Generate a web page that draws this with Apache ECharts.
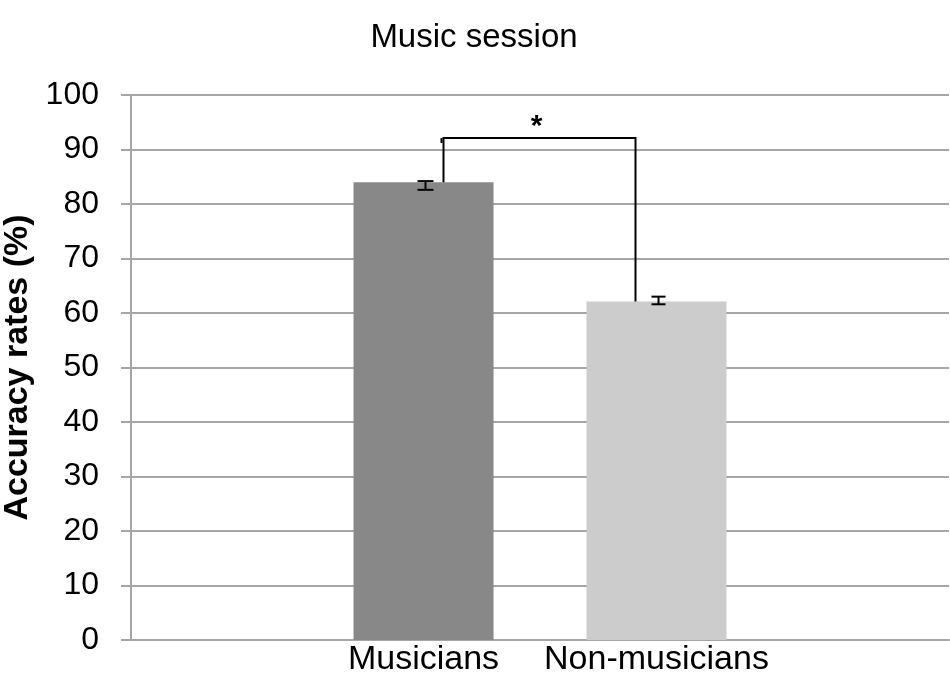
<!DOCTYPE html>
<html>
<head>
<meta charset="utf-8">
<script src="https://cdn.jsdelivr.net/npm/echarts@6/dist/echarts.min.js"></script>
<style>
html,body{margin:0;padding:0;background:#fff;}
#chart{width:950px;height:674px;}
</style>
</head>
<body>
<div id="chart"></div>
<script>
// ---- data ----
var groups = ['Musicians', 'Non-musicians'];
var accuracy = [84.0, 62.1];
var errLow = [82.6, 61.6];
var errHigh = [84.2, 63.0];
var bracketTop = 92.1;
var yTicks = [0, 10, 20, 30, 40, 50, 60, 70, 80, 90, 100];

// ---- layout constants ----
var BAR_W = 140;
var GAP_PX = 93;
var colors = ['#888888', '#cccccc'];
var FONT = '"Liberation Sans", Arial, sans-serif';

function barCenterX(api, i) {
  var c = api.coord([0, 0])[0];
  return c + (i - (groups.length - 1) / 2) * (BAR_W + GAP_PX);
}

var chart = echarts.init(document.getElementById('chart'), null, {renderer: 'canvas'});

var series = groups.map(function (g, i) {
  return {
    name: g,
    type: 'bar',
    data: [accuracy[i]],
    barWidth: BAR_W,
    barGap: (GAP_PX / BAR_W * 100).toFixed(1) + '%',
    itemStyle: {color: colors[i]},
    label: {
      show: true,
      position: 'bottom',
      distance: 3,
      formatter: '{a}',
      color: '#000',
      fontSize: 34,
      fontFamily: FONT
    },
    silent: true,
    z: 2
  };
});

series.push({
  type: 'custom',
  name: 'err',
  data: groups.map(function (g, i) { return [0, errLow[i], errHigh[i], i]; }),
  renderItem: function (params, api) {
    var i = api.value(3);
    var x = barCenterX(api, i) + 2;
    var yl = api.coord([0, api.value(1)])[1];
    var yh = api.coord([0, api.value(2)])[1];
    var hw = i === 0 ? 8 : 7;
    var st = {stroke: '#000', lineWidth: 2};
    return {
      type: 'group',
      children: [
        {type: 'line', shape: {x1: x, y1: yl, x2: x, y2: yh}, style: st},
        {type: 'line', shape: {x1: x - hw, y1: yl, x2: x + hw, y2: yl}, style: st},
        {type: 'line', shape: {x1: x - hw, y1: yh, x2: x + hw, y2: yh}, style: st}
      ]
    };
  },
  z: 5,
  silent: true
});

series.push({
  type: 'custom',
  name: 'bracket',
  data: [[0, accuracy[0], accuracy[1], bracketTop]],
  renderItem: function (params, api) {
    var xl = barCenterX(api, 0) + 20;
    var xr = barCenterX(api, 1) - 21;
    var yl = api.coord([0, api.value(1)])[1];
    var yr = api.coord([0, api.value(2)])[1];
    var yt = api.coord([0, api.value(3)])[1];
    var st = {stroke: '#000', lineWidth: 2, fill: null};
    return {
      type: 'group',
      children: [
        {type: 'polyline', shape: {points: [[xl, yl], [xl, yt], [xr, yt], [xr, yr]]}, style: st},
        {type: 'line', shape: {x1: xl - 2, y1: yt, x2: xl - 2, y2: yt + 5}, style: st},
        {type: 'text', style: {text: '*', x: (xl + xr) / 2 - 3, y: yt + 4, fill: '#000',
          font: 'bold 30px ' + FONT, textAlign: 'center', textVerticalAlign: 'bottom'}}
      ]
    };
  },
  z: 6,
  silent: true
});

chart.setOption({
  animation: false,
  backgroundColor: '#ffffff',
  title: {
    text: 'Music session',
    left: 469,
    textAlign: 'center',
    top: 16,
    textStyle: {fontSize: 33, fontWeight: 'normal', color: '#000', fontFamily: FONT}
  },
  grid: {left: 131, right: 1, top: 95, bottom: 34, containLabel: false, outerBoundsMode: 'none'},
  xAxis: {
    type: 'category',
    data: ['all'],
    axisLabel: {show: false},
    axisTick: {show: false},
    axisLine: {show: true, lineStyle: {color: '#a6a6a6', width: 2}},
    splitLine: {show: false}
  },
  yAxis: {
    type: 'value',
    min: yTicks[0],
    max: yTicks[yTicks.length - 1],
    interval: 10,
    name: 'Accuracy rates (%)',
    nameLocation: 'middle',
    nameGap: 96,
    nameTextStyle: {fontSize: 34, fontWeight: 'bold', color: '#000', fontFamily: FONT},
    axisLine: {show: true, lineStyle: {color: '#a6a6a6', width: 2}},
    axisTick: {show: true, length: 10, lineStyle: {color: '#a6a6a6', width: 2}},
    axisLabel: {fontSize: 32, color: '#000', margin: 32, fontFamily: FONT},
    splitLine: {show: true, lineStyle: {color: '#a6a6a6', width: 2}}
  },
  series: series
});
</script>
</body>
</html>
